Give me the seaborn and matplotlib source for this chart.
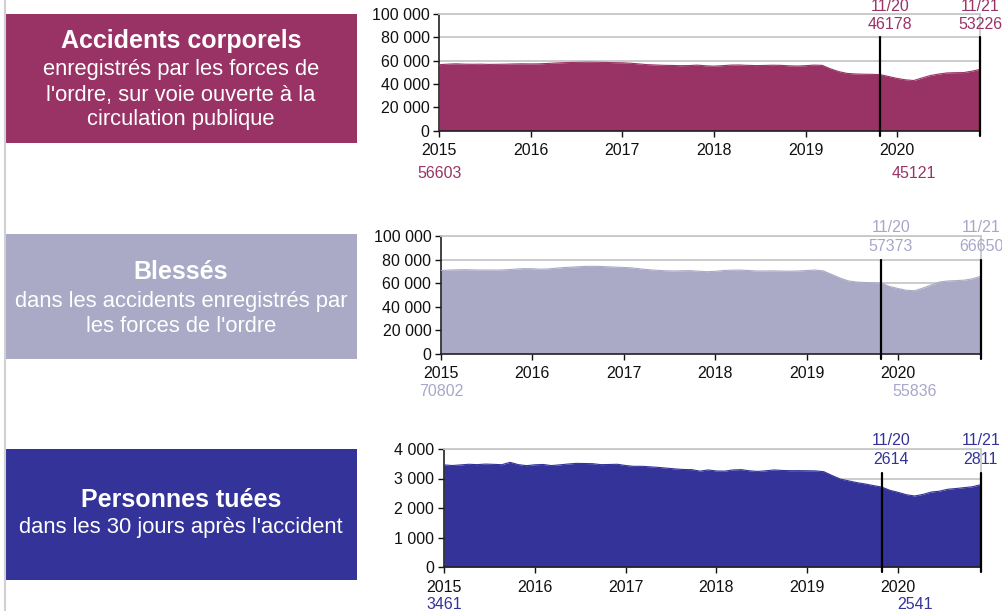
import numpy as np
import pandas as pd
import seaborn as sns
import matplotlib.pyplot as plt
import matplotlib.transforms as mtransforms
from matplotlib.ticker import FuncFormatter, MultipleLocator
from matplotlib.patches import Rectangle
from matplotlib.lines import Line2D

# monthly rolling totals, one point per month (index 0 = start of 2015 axis)
months = list(range(66))
year_labels = ["2015", "2016", "2017", "2018", "2019", "2020"]
year_step = 11  # the category axis puts a year label every 11 points

accidents = [
    56.6, 57.0, 57.3, 57.0, 56.9, 57.0, 56.8, 56.9, 57.0, 57.2,
    57.3, 57.2, 57.3, 57.6, 58.0, 58.3, 58.5, 58.6, 58.7, 58.6,
    58.5, 58.3, 58.2, 57.8, 57.2, 56.6, 56.3, 56.0, 55.9, 55.7,
    55.8, 56.2, 55.6, 55.3, 55.7, 56.2, 56.3, 56.0, 55.8, 55.9,
    56.1, 56.0, 55.6, 55.4, 55.7, 56.2, 56.0, 53.0, 50.6, 49.1,
    48.6, 48.4, 48.3, 48.0, 46.4, 44.8, 43.6, 43.0, 45.2, 47.3,
    48.5, 49.5, 49.7, 49.8, 51.0, 52.6,
]
blesses = [
    70.8, 71.2, 71.4, 71.5, 71.3, 71.2, 71.2, 71.2, 71.5, 72.0,
    72.4, 72.3, 71.9, 72.2, 72.9, 73.4, 73.8, 74.2, 74.4, 74.3,
    74.0, 73.7, 73.4, 73.0, 72.2, 71.5, 71.0, 70.6, 70.4, 70.6,
    70.7, 70.2, 69.8, 70.1, 70.8, 71.1, 71.2, 70.8, 70.4, 70.4,
    70.5, 70.3, 70.2, 70.4, 70.8, 71.2, 70.5, 67.5, 64.5, 62.0,
    61.0, 60.6, 60.4, 60.1, 57.2, 55.5, 54.0, 53.6, 55.8, 58.5,
    61.0, 61.9, 62.2, 62.6, 63.8, 66.0,
]
tues = [
    3461, 3440, 3460, 3482, 3470, 3488, 3480, 3468, 3548, 3470,
    3435, 3465, 3475, 3438, 3462, 3490, 3512, 3508, 3502, 3470,
    3475, 3482, 3440, 3412, 3413, 3395, 3375, 3350, 3325, 3305,
    3300, 3250, 3290, 3254, 3250, 3290, 3300, 3260, 3240, 3262,
    3290, 3272, 3265, 3266, 3262, 3258, 3230, 3100, 2980, 2920,
    2860, 2814, 2760, 2710, 2600, 2530, 2450, 2407, 2460, 2540,
    2570, 2635, 2660, 2690, 2720, 2790,
]

marker_months = [53, 65]
marker_labels = ["11/20", "11/21"]
accidents_marks = ["46178", "53226"]
blesses_marks = ["57373", "66650"]
tues_marks = ["2614", "2811"]
accidents_lows = ["56603", "45121"]
blesses_lows = ["70802", "55836"]
tues_lows = ["3461", "2541"]

titles = ["Accidents corporels", "Blessés", "Personnes tuées"]
subtitles = [
    ["enregistrés par les forces de", "l'ordre, sur voie ouverte à la", "circulation publique"],
    ["dans les accidents enregistrés par", "les forces de l'ordre"],
    ["dans les 30 jours après l'accident"],
]

PLUM = "#993366"
LAVENDER = "#AAAAC7"
LAV_TEXT = "#A7A7CB"
NAVY = "#333399"

sns.set_theme(style="white")
plt.rcParams["font.family"] = ["Liberation Sans", "DejaVu Sans"]

W, H = 1003, 611
fig = plt.figure(figsize=(W / 100, H / 100), dpi=100)


def fx(px):
    return px / W


def fy(py):
    return 1 - py / H


panels = [
    dict(values=[v * 1000 for v in accidents], fill=PLUM, text=PLUM, top=100000, step=20000,
         marks=accidents_marks, lows=accidents_lows, rect=(439.3, 14.0, 980.3, 130.7),
         box=(14, 143), title_y=41, sub_y=[70, 95, 120], low_y=-0.365, head_y=1.06),
    dict(values=[v * 1000 for v in blesses], fill=LAVENDER, text=LAV_TEXT, top=100000, step=20000,
         marks=blesses_marks, lows=blesses_lows, rect=(441.0, 236.2, 981.0, 353.7),
         box=(234, 359), title_y=272, sub_y=[301, 326], low_y=-0.32, head_y=1.075),
    dict(values=tues, fill=NAVY, text=NAVY, top=4000, step=1000,
         marks=tues_marks, lows=tues_lows, rect=(444.0, 449.0, 980.7, 567.0),
         box=(449, 580), title_y=500, sub_y=[528], low_y=-0.315, head_y=1.075),
]

fmt = FuncFormatter(lambda v, p: f"{int(v):,}".replace(",", " "))

for i, p in enumerate(panels):
    x0, y0, x1, y1 = p["rect"]
    ax = fig.add_axes([fx(x0), fy(y1), fx(x1 - x0), (y1 - y0) / H])
    df = pd.DataFrame({"month": months, "value": p["values"]})

    ax.fill_between(df["month"], 0, df["value"], color=p["fill"], lw=0, zorder=2)
    sns.lineplot(data=df, x="month", y="value", color=p["fill"], lw=0.8, ax=ax, zorder=3)

    ax.set_xlim(months[0], months[-1])
    ax.set_ylim(0, p["top"])
    ax.yaxis.set_major_locator(MultipleLocator(p["step"]))
    ax.yaxis.set_major_formatter(fmt)
    ax.set_xticks(range(0, len(year_labels) * year_step, year_step))
    ax.set_xticklabels(year_labels)
    ax.set_xlabel("")
    ax.set_ylabel("")
    ax.yaxis.grid(True, color="#C8C8C8", lw=1.3)
    ax.set_axisbelow(True)
    ax.tick_params(axis="both", labelsize=11.5, colors="#111111", length=4, width=1,
                   direction="out", pad=3)
    ax.tick_params(axis="x", pad=5)
    ax.tick_params(left=True, bottom=True)
    for s in ["left", "bottom"]:
        ax.spines[s].set_color("#222222")
        ax.spines[s].set_linewidth(1.2)
    for s in ["top", "right"]:
        ax.spines[s].set_color("#C8C8C8")
        ax.spines[s].set_linewidth(1.3)

    trans = mtransforms.blended_transform_factory(ax.transData, ax.transAxes)
    for m, lab, val in zip(marker_months, marker_labels, p["marks"]):
        ax.add_line(Line2D([m, m], [-0.045, 0.80], transform=trans, color="black",
                           lw=1.6, clip_on=False, zorder=5))
        dx = 7 if m != months[-1] else 0
        ax.annotate(lab, (m, p["head_y"]), xycoords=trans, xytext=(dx, 0), textcoords="offset points",
                    ha="center", va="center", fontsize=11.5, color=p["text"], annotation_clip=False)
        ax.annotate(val, (m, 0.91), xycoords=trans, xytext=(dx, 0), textcoords="offset points",
                    ha="center", va="center", fontsize=11.5, color=p["text"], annotation_clip=False)

    low_idx = int(np.argmin(p["values"]))
    for m, val in zip([months[0], months[low_idx]], p["lows"]):
        ax.text(m, p["low_y"], val, transform=trans, ha="center", va="center",
                fontsize=11.5, color=p["text"], clip_on=False)

    # colored label box on the left
    b0, b1 = p["box"]
    fig.patches.append(Rectangle((fx(6), fy(b1)), fx(351), (b1 - b0) / H,
                                 transform=fig.transFigure, color=p["fill"], lw=0))
    fig.text(fx(181), fy(p["title_y"]), titles[i], ha="center", va="center",
             fontsize=18, fontweight="bold", color="white")
    for line, yy in zip(subtitles[i], p["sub_y"]):
        fig.text(fx(181), fy(yy), line, ha="center", va="center", fontsize=15.8, color="white")

fig.add_artist(Line2D([fx(4.5), fx(4.5)], [0, 1], transform=fig.transFigure,
                      color="#D0D0D0", lw=1.5))

fig.savefig("out.png", dpi=100)
